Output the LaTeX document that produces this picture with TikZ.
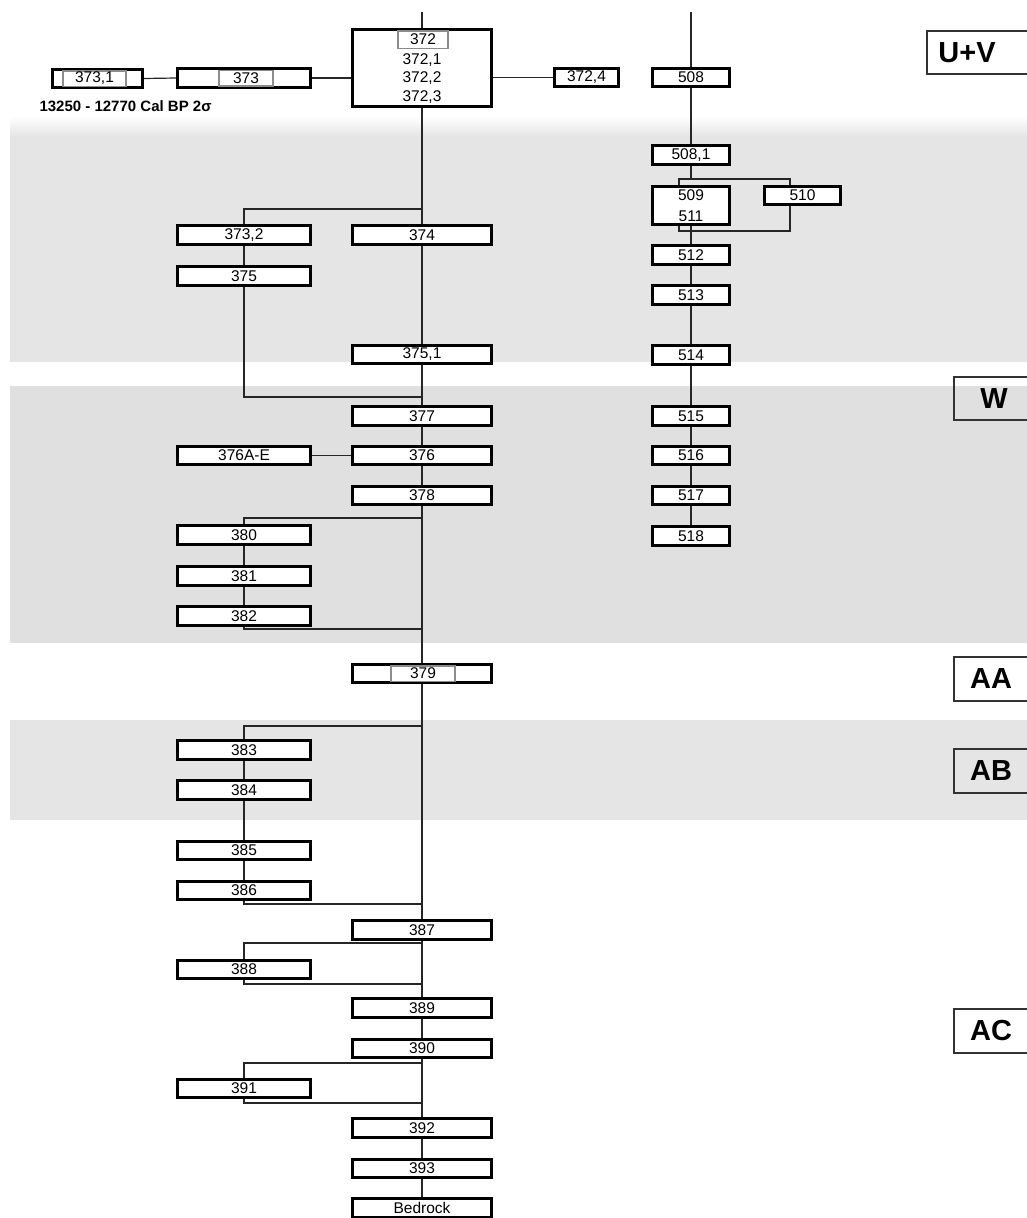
\documentclass[tikz,border=0pt]{standalone}
\usepackage{fontspec}
\setmainfont{Liberation Sans}
\usetikzlibrary{calc}

\tikzset{
	unit/.style={draw, line width=2.7pt, fill=white, inner sep=0pt, minimum height=18.5pt, font=\fontsize{15.5}{17}\selectfont},
	mainunit/.style={unit, minimum width=139.5pt},
	sideunit/.style={unit, minimum width=133.5pt},
	eastunit/.style={unit, minimum width=77.5pt},
	subunit/.style={draw=black!45, line width=1.5pt, inner sep=0pt, minimum height=15.5pt, font=\fontsize{15.5}{17}\selectfont},
	link/.style={line width=1.2pt, black!85},
	zone/.style={font=\fontsize{29}{31}\selectfont\bfseries},
	zoneframe/.style={line width=1.6pt, black!80},
}

\begin{document}
\begin{tikzpicture}[x=1pt, y=-1pt]
		%%%%% START %%%%%
		\useasboundingbox (0,0) rectangle (1027,1218);
		
		% grey bands
		\shade[top color=white, bottom color=black!10] (10,116) rectangle (1027,136);
		\fill[black!10] (10,136) rectangle (1027,362);
		\fill[black!12] (10,386) rectangle (1027,643);
		\fill[black!10] (10,720) rectangle (1027,820);
		
		% zones
		\draw[zoneframe] (927,31) rectangle (1040,74);
		\node[zone] (zUV) at (967,53) {U+V};
		\draw[zoneframe] (954,377) rectangle (1040,420);
		\node[zone] (zW) at (994,399) {W};
		\draw[zoneframe] (954,657) rectangle (1040,701);
		\node[zone] (zAA) at (991,679) {AA};
		\draw[zoneframe] (954,749) rectangle (1040,793);
		\node[zone] (zAB) at (991,771) {AB};
		\draw[zoneframe] (954,1009) rectangle (1040,1053);
		\node[zone] (zAC) at (991,1031) {AC};
		
		% top row
		\node[unit, minimum width=139.5pt, minimum height=77.5pt] (b372) at (422,68) {};
		\node[subunit, minimum width=50pt, minimum height=17.5pt] (g372) at (423,39.5) {372};
		\node[align=center, font=\fontsize{15.5}{18.5}\selectfont] (t372) at (422,78.5) {372,1\\372,2\\372,3};
		\node[unit, minimum width=90.5pt] (b3731) at (97.5,78.5) {};
		\node[subunit, minimum width=63pt] (g3731) at (94.5,78.5) {373,1};
		\node[sideunit] (b373) at (244,78) {};
		\node[subunit, minimum width=54pt] (g373) at (246,78) {373};
		\node[anchor=west, font=\fontsize{15}{17}\selectfont\bfseries] (cal) at (36,106) {13250 - 12770 Cal BP 2σ};
		\node[unit, minimum width=64.5pt] (b3724) at (586.5,77.5) {372,4};
		\node[eastunit] (b508) at (691,77.5) {508};
		
		% east column
		\node[eastunit] (b5081) at (691,155) {508,1};
		\node[eastunit, minimum height=38.5pt, align=center, font=\fontsize{15.5}{21}\selectfont] (b509) at (691,205.5) {509\\511};
		\node[unit, minimum width=76.5pt] (b510) at (802.5,195.5) {510};
		\node[eastunit] (b512) at (691,255) {512};
		\node[eastunit] (b513) at (691,295) {513};
		\node[eastunit] (b514) at (691,355) {514};
		\node[eastunit] (b515) at (691,416) {515};
		\node[eastunit] (b516) at (691,455.5) {516};
		\node[eastunit] (b517) at (691,495.5) {517};
		\node[eastunit] (b518) at (691,536) {518};
		
		% main column
		\node[mainunit] (b374) at (422,235) {374};
		\node[mainunit] (b3751) at (422,354.5) {375,1};
		\node[mainunit] (b377) at (422,416) {377};
		\node[mainunit] (b376) at (422,455.5) {376};
		\node[mainunit] (b378) at (422,495.5) {378};
		\node[mainunit] (b379) at (422,673.5) {};
		\node[subunit, minimum width=64pt] (g379) at (423,673.5) {379};
		\node[mainunit] (b387) at (422,930) {387};
		\node[mainunit] (b389) at (422,1008) {389};
		\node[mainunit] (b390) at (422,1048.5) {390};
		\node[mainunit] (b392) at (422,1128) {392};
		\node[mainunit] (b393) at (422,1168.5) {393};
		\node[mainunit] (bedrock) at (422,1208) {Bedrock};
		
		% west column
		\node[sideunit] (b3732) at (244,235) {373,2};
		\node[sideunit] (b375) at (244,276) {375};
		\node[sideunit] (b376A) at (244,455.5) {376A-E};
		\node[sideunit] (b380) at (244,535) {380};
		\node[sideunit] (b381) at (244,576) {381};
		\node[sideunit] (b382) at (244,616) {382};
		\node[sideunit] (b383) at (244,750) {383};
		\node[sideunit] (b384) at (244,790) {384};
		\node[sideunit] (b385) at (244,850.5) {385};
		\node[sideunit] (b386) at (244,890.5) {386};
		\node[sideunit] (b388) at (244,969.5) {388};
		\node[sideunit] (b391) at (244,1088.5) {391};
		
		% junctions
		\coordinate (top1) at (422,12);
		\coordinate (top2) at (691,12);
		\coordinate (j1) at (422,209);
		\coordinate (j2) at (422,397);
		\coordinate (j3) at (422,518);
		\coordinate (j4) at (422,629);
		\coordinate (j5) at (422,726);
		\coordinate (j6) at (422,904);
		\coordinate (j7) at (422,943);
		\coordinate (j8) at (422,984);
		\coordinate (j9) at (422,1063);
		\coordinate (j10) at (422,1103);
		\coordinate (j509) at (691,179);
		\coordinate (t509) at (679,179);
		\coordinate (t510) at (790,179);
		\coordinate (u509) at (679,231);
		\coordinate (u510) at (790,231);
		
		% links
		\draw[link] (top1) -- (b372.north);
		\draw[link] (b3731.east) -- (b373.west);
		\draw[link] (b373.east) -- (b373.east -| b372.west);
		\draw[link] (b3724.west -| b372.east) -- (b3724.west);
		
		\draw[link] (b372) -- (b374) -- (b3751) -- (b377) -- (b376) -- (b378) -- (b379) -- (b387) -- (b389) -- (b390) -- (b392) -- (b393) -- (bedrock);
		\draw[link] (b376A) -- (b376);
		
		\draw[link] (j1) -| (b3732);
		\draw[link] (b3732) -- (b375);
		\draw[link] (b375) |- (j2);
		\draw[link] (j3) -| (b380);
		\draw[link] (b380) -- (b381) -- (b382);
		\draw[link] (b382) |- (j4);
		\draw[link] (j5) -| (b383);
		\draw[link] (b383) -- (b384) -- (b385) -- (b386);
		\draw[link] (b386) |- (j6);
		\draw[link] (j7) -| (b388);
		\draw[link] (b388) |- (j8);
		\draw[link] (j9) -| (b391);
		\draw[link] (b391) |- (j10);
		
		\draw[link] (top2) -- (b508.north);
		\draw[link] (b508) -- (b5081) -- (j509);
		\draw[link] (b509.north -| t509) -- (t509) -- (t510) -- (b510.north -| t510);
		\draw[link] (b509.south -| u509) -- (u509) -- (u510) -- (b510.south -| u510);
		\draw[link] (b509) -- (b512) -- (b513) -- (b514) -- (b515) -- (b516) -- (b517) -- (b518);
		
		%%%%% END %%%%%
	\end{tikzpicture}
\end{document}
